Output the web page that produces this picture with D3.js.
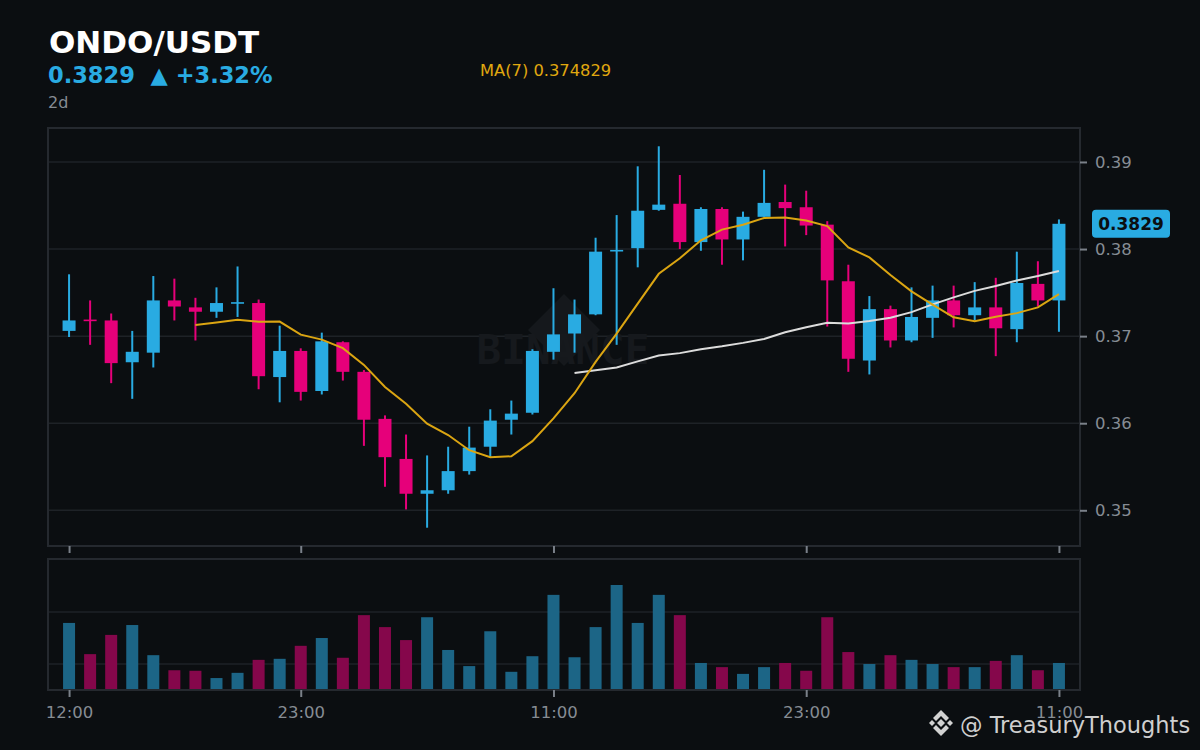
<!DOCTYPE html>
<html>
<head>
<meta charset="utf-8">
<script src="https://cdn.jsdelivr.net/npm/d3@7"></script>
<style>
  html, body { margin: 0; padding: 0; background: #0b0e11; }
  svg { display: block; font-family: "DejaVu Sans", sans-serif; }
</style>
</head>
<body>
<div id="chart"></div>
<script>
// data: hourly ONDO/USDT candles
var opens  = [0.3706, 0.3719, 0.3718, 0.3670, 0.3681, 0.3741, 0.3733, 0.3728, 0.3738, 0.3738,
              0.3653, 0.3683, 0.3637, 0.3693, 0.3659, 0.3605, 0.3559, 0.3519, 0.3523, 0.3545,
              0.3573, 0.3604, 0.3612, 0.3682, 0.3703, 0.3725, 0.3798, 0.3801, 0.3845, 0.3852,
              0.3808, 0.3846, 0.3811, 0.3837, 0.3854, 0.3848, 0.3828, 0.3763, 0.3672, 0.3731,
              0.3695, 0.3721, 0.3741, 0.3724, 0.3733, 0.3708, 0.3760, 0.3741];
var highs  = [0.3771, 0.3741, 0.3726, 0.3706, 0.3769, 0.3766, 0.3744, 0.3756, 0.3780, 0.3742,
              0.3712, 0.3686, 0.3704, 0.3694, 0.3661, 0.3609, 0.3587, 0.3563, 0.3573, 0.3596,
              0.3616, 0.3626, 0.3685, 0.3755, 0.3742, 0.3813, 0.3839, 0.3895, 0.3918, 0.3885,
              0.3848, 0.3848, 0.3843, 0.3891, 0.3874, 0.3867, 0.3832, 0.3782, 0.3746, 0.3735,
              0.3756, 0.3758, 0.3758, 0.3762, 0.3767, 0.3797, 0.3786, 0.3834];
var lows   = [0.3699, 0.3690, 0.3646, 0.3628, 0.3664, 0.3718, 0.3695, 0.3721, 0.3722, 0.3639,
              0.3624, 0.3626, 0.3633, 0.3649, 0.3574, 0.3527, 0.3501, 0.3480, 0.3519, 0.3541,
              0.3561, 0.3587, 0.3610, 0.3673, 0.3681, 0.3724, 0.3690, 0.3779, 0.3844, 0.3800,
              0.3798, 0.3782, 0.3787, 0.3837, 0.3803, 0.3816, 0.3711, 0.3659, 0.3656, 0.3687,
              0.3693, 0.3698, 0.3710, 0.3718, 0.3677, 0.3693, 0.3734, 0.3705];
var closes = [0.3718, 0.3718, 0.3669, 0.3682, 0.3741, 0.3734, 0.3728, 0.3738, 0.3739, 0.3654,
              0.3683, 0.3636, 0.3694, 0.3659, 0.3604, 0.3561, 0.3519, 0.3523, 0.3545, 0.3572,
              0.3603, 0.3611, 0.3683, 0.3702, 0.3725, 0.3797, 0.3799, 0.3844, 0.3851, 0.3808,
              0.3846, 0.3811, 0.3837, 0.3853, 0.3847, 0.3827, 0.3764, 0.3674, 0.3731, 0.3695,
              0.3722, 0.3741, 0.3724, 0.3733, 0.3709, 0.3761, 0.3741, 0.3829];
// volume in thousands
var volumes = [179, 119, 156, 175, 117, 88, 87, 73, 83, 108,
               110, 135, 150, 112, 194, 171, 146, 190, 127, 96,
               163, 85, 115, 233, 113, 171, 252, 179, 233, 194,
               102, 94, 81, 94, 102, 87, 190, 123, 100, 117,
               108, 100, 94, 94, 106, 117, 88, 102];

var timeTickIdx = [0, 11, 23, 35, 47];
var timeTickLabels = ["12:00", "23:00", "11:00", "23:00", "11:00"];
var priceTicks = [0.35, 0.36, 0.37, 0.38, 0.39];
var volumeTicks = [100, 200];

var upColor = "#29abe2", downColor = "#e6007a";
var volUp = "#1c6586", volDown = "#85074b";
var gridColor = "#1e2227", frameColor = "#25292f", textGray = "#868c94";

var width = 1200, height = 750;
var main = {left: 48, right: 1080, top: 128, bottom: 546};
var vol = {top: 559, bottom: 690};

var svg = d3.select("#chart").append("svg")
    .attr("width", width)
    .attr("height", height);

svg.append("rect").attr("width", width).attr("height", height).attr("fill", "#0b0e11");

// scales
var x = d3.scaleLinear().domain([-1, closes.length]).range([main.left, main.right]);
var y = d3.scaleLinear().domain([0.3459, 0.3939]).range([main.bottom, main.top]);
var vy = d3.scaleLinear().domain([50, 302]).range([vol.bottom, vol.top]);

var candles = closes.map(function(c, i) {
    return {i: i, o: opens[i], h: highs[i], l: lows[i], c: c, v: volumes[i]};
});

function movingAvg(n) {
    var out = [];
    for (var i = n - 1; i < closes.length; i++) {
        out.push({i: i, v: d3.mean(closes.slice(i - n + 1, i + 1))});
    }
    return out;
}
var ma7 = movingAvg(7), ma25 = movingAvg(25);

// header
svg.append("text")
    .attr("x", 49).attr("y", 53)
    .attr("fill", "#ffffff")
    .attr("font-size", 31).attr("font-weight", "bold")
    .text("ONDO/USDT");

var last = closes[closes.length - 1];
var pct = (last / opens[0] - 1) * 100;
svg.append("text")
    .attr("x", 48).attr("y", 83)
    .attr("fill", upColor)
    .attr("font-size", 22.5).attr("font-weight", "bold")
    .attr("xml:space", "preserve")
    .text(last.toFixed(4) + "  \u25B2 +" + pct.toFixed(2) + "%");

svg.append("text")
    .attr("x", 48).attr("y", 108)
    .attr("fill", textGray)
    .attr("font-size", 16)
    .text("2d");

svg.append("text")
    .attr("x", 480).attr("y", 76)
    .attr("fill", "#e0a80f")
    .attr("font-size", 16.3)
    .text("MA(7) " + ma7[ma7.length - 1].v.toFixed(6));

// clip paths
var defs = svg.append("defs");
defs.append("clipPath").attr("id", "clipMain").append("rect")
    .attr("x", main.left).attr("y", main.top)
    .attr("width", main.right - main.left).attr("height", main.bottom - main.top);
defs.append("clipPath").attr("id", "clipVol").append("rect")
    .attr("x", main.left).attr("y", vol.top)
    .attr("width", main.right - main.left).attr("height", vol.bottom - vol.top);

// grid
svg.append("g").selectAll("line")
    .data(priceTicks).join("line")
    .attr("x1", main.left).attr("x2", main.right)
    .attr("y1", d => y(d)).attr("y2", d => y(d))
    .attr("stroke", gridColor).attr("stroke-width", 1.5);

svg.append("g").selectAll("line")
    .data(volumeTicks).join("line")
    .attr("x1", main.left).attr("x2", main.right)
    .attr("y1", d => vy(d)).attr("y2", d => vy(d))
    .attr("stroke", gridColor).attr("stroke-width", 1.5);

// watermark
var wm = svg.append("g");
wm.append("path")
    .attr("d", "M564,294 L600,330 L564,366 L528,330 Z")
    .attr("fill", "#15181c");
wm.append("text")
    .attr("x", 563).attr("y", 364)
    .attr("text-anchor", "middle")
    .attr("font-family", "'DejaVu Sans Mono', monospace")
    .attr("font-weight", "bold")
    .attr("font-size", 41)
    .attr("fill", "#16191d")
    .text("BINANCE");

// candles
var bw = 13;
var cg = svg.append("g").attr("clip-path", "url(#clipMain)");
cg.selectAll("line.wick")
    .data(candles).join("line")
    .attr("class", "wick")
    .attr("x1", d => x(d.i)).attr("x2", d => x(d.i))
    .attr("y1", d => y(d.h)).attr("y2", d => y(d.l))
    .attr("stroke", d => d.c >= d.o ? upColor : downColor)
    .attr("stroke-width", 2);

cg.selectAll("rect.body")
    .data(candles).join("rect")
    .attr("class", "body")
    .attr("x", d => x(d.i) - bw / 2)
    .attr("width", bw)
    .attr("y", d => y(Math.max(d.o, d.c)))
    .attr("height", d => Math.max(1.6, Math.abs(y(d.o) - y(d.c))))
    .attr("fill", d => d.c >= d.o ? upColor : downColor);

// moving averages
var maLine = d3.line().x(d => x(d.i)).y(d => y(d.v));
cg.append("path").datum(ma25)
    .attr("d", maLine)
    .attr("fill", "none").attr("stroke", "#dcdcdc").attr("stroke-width", 2);
cg.append("path").datum(ma7)
    .attr("d", maLine)
    .attr("fill", "none").attr("stroke", "#dba512").attr("stroke-width", 2);

// volume bars
svg.append("g").attr("clip-path", "url(#clipVol)")
    .selectAll("rect")
    .data(candles).join("rect")
    .attr("x", d => x(d.i) - 6)
    .attr("width", 12)
    .attr("y", d => vy(d.v))
    .attr("height", d => vol.bottom - vy(d.v))
    .attr("fill", d => d.c >= d.o ? volUp : volDown);

// frames
svg.append("rect")
    .attr("x", main.left).attr("y", main.top)
    .attr("width", main.right - main.left).attr("height", main.bottom - main.top)
    .attr("fill", "none").attr("stroke", frameColor).attr("stroke-width", 2);
svg.append("rect")
    .attr("x", main.left).attr("y", vol.top)
    .attr("width", main.right - main.left).attr("height", vol.bottom - vol.top)
    .attr("fill", "none").attr("stroke", frameColor).attr("stroke-width", 2);

// axes
function styleAxis(g) {
    g.select(".domain").remove();
    g.selectAll(".tick line").attr("stroke", "#7a8089").attr("stroke-width", 2);
    g.selectAll(".tick text").attr("fill", textGray).attr("font-size", 16.5)
        .attr("font-family", "'DejaVu Sans', sans-serif");
}

svg.append("g")
    .attr("transform", `translate(${main.right},0)`)
    .call(d3.axisRight(y).tickValues(priceTicks).tickFormat(d3.format(".2f")).tickSize(7).tickPadding(8))
    .call(styleAxis);

svg.append("g")
    .attr("transform", `translate(0,${main.bottom})`)
    .call(d3.axisBottom(x).tickValues(timeTickIdx).tickFormat("").tickSize(7))
    .call(styleAxis);

svg.append("g")
    .attr("transform", `translate(0,${vol.bottom})`)
    .call(d3.axisBottom(x).tickValues(timeTickIdx)
        .tickFormat((d, i) => timeTickLabels[i]).tickSize(7).tickPadding(9))
    .call(styleAxis);

// last price tag
var tagY = y(last);
svg.append("rect")
    .attr("x", 1092).attr("y", tagY - 14)
    .attr("width", 78).attr("height", 28)
    .attr("rx", 4)
    .attr("fill", upColor);
svg.append("text")
    .attr("x", 1131).attr("y", tagY + 6)
    .attr("text-anchor", "middle")
    .attr("font-size", 17).attr("font-weight", "bold")
    .attr("fill", "#0b0e11")
    .text(last.toFixed(4));

// bottom-right credit
var logo = svg.append("g")
    .attr("transform", "translate(941,723)")
    .attr("fill", "#d2d2d2");
logo.append("path").attr("d", "M0,-4 L4,0 L0,4 L-4,0 Z");
logo.append("path").attr("d", "M-12,0 L-9,-3 L-6,0 L-9,3 Z");
logo.append("path").attr("d", "M12,0 L9,-3 L6,0 L9,3 Z");
logo.append("path").attr("d", "M0,-13 L8,-5 L5,-2 L0,-7 L-5,-2 L-8,-5 Z");
logo.append("path").attr("d", "M0,13 L8,5 L5,2 L0,7 L-5,2 L-8,5 Z");

svg.append("text")
    .attr("x", 960).attr("y", 733)
    .attr("fill", "#cfcfcf")
    .attr("font-size", 22.5)
    .text("@ TreasuryThoughts");
</script>
</body>
</html>
